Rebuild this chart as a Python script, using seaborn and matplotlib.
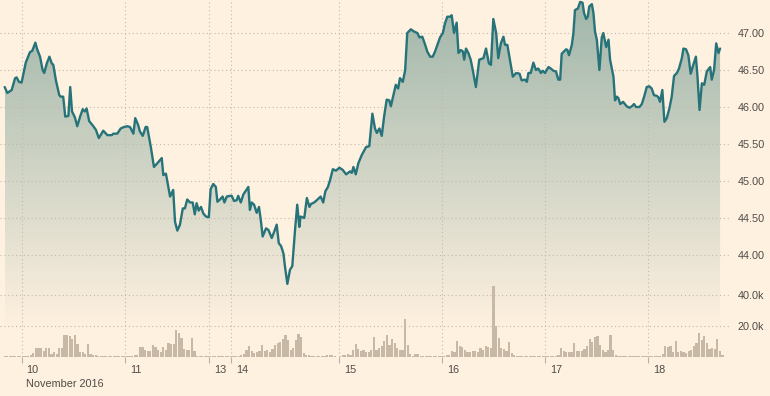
import numpy as np
import pandas as pd
import matplotlib
matplotlib.use('Agg')
import matplotlib.pyplot as plt
import seaborn as sns
from matplotlib.colors import LinearSegmentedColormap
from matplotlib.transforms import ScaledTranslation

# Price path, x in trading-slot units (one slot per volume bar).
price_t = [
    0.0, 1.0, 2.7, 4.0, 4.6, 5.5, 6.5, 8.1, 9.7, 10.6, 11.8, 12.5, 13.6, 14.6, 15.2,
    16.2, 17.2, 18.1, 18.7, 19.7, 21.0, 21.5, 22.5, 23.3, 24.5, 25.2, 25.9, 27.0, 27.9,
    29.0, 30.0, 30.8, 31.5, 32.5, 34.1, 35.1, 36.2, 37.9, 39.5, 41.2, 41.8, 43.3, 44.6,
    45.9, 47.2, 48.2, 49.5, 50.2, 51.3, 52.0, 53.1, 54.2, 54.8, 56.2, 57.4, 58.7, 60.4,
    61.0, 62.0, 63.6, 64.8, 65.5, 66.4, 67.4, 68.5, 69.3, 70.2, 71.3, 72.3, 73.1, 73.8,
    74.6, 75.5, 76.4, 77.4, 78.5, 79.2, 80.2, 81.2, 81.8, 82.8, 83.8, 84.5, 85.4, 86.7,
    87.3, 88.2, 89.2, 89.8, 90.8, 91.8, 93.7, 94.3, 95.0, 95.9, 96.9, 97.8, 98.6, 99.2,
    100.5, 101.4, 102.7, 103.6, 104.6, 105.4, 106.3, 107.2, 107.8, 108.7, 109.7, 110.6,
    111.7, 112.5, 113.3, 113.8, 115.2, 116.2, 117.2, 117.8, 119.0, 120.0, 121.5, 122.5,
    123.3, 124.3, 125.1, 126.2, 127.4, 128.7, 130.0, 131.3, 132.8, 133.5, 134.1, 135.0,
    136.0, 137.3, 139.0, 140.2, 141.4, 142.4, 143.1, 144.1, 145.0, 145.9, 146.9, 147.9,
    148.5, 149.5, 150.4, 151.3, 152.0, 153.1, 154.0, 154.8, 156.2, 157.4, 158.7, 159.5,
    160.6, 161.7, 162.5, 163.6, 164.6, 165.5, 166.4, 167.4, 168.5, 169.3, 170.2, 171.3,
    171.9, 172.8, 173.8, 174.5, 175.4, 176.2, 176.7, 177.4, 178.3, 179.2, 180.0, 181.2,
    182.5, 184.1, 185.1, 186.2, 187.0, 187.9, 189.0, 189.8, 190.8, 191.8, 192.4, 193.3,
    195.4, 196.7, 198.0, 198.8, 200.1, 200.8, 201.4, 202.3, 203.3, 204.3, 205.2, 206.2,
    206.9, 207.8, 209.1, 210.0, 211.0, 212.0, 212.9, 213.6, 214.2, 215.9, 216.4, 217.0,
    218.1, 218.7, 219.3, 220.4, 221.3, 222.2, 222.8, 223.6, 224.2, 224.8, 225.8, 226.4,
    227.0, 227.7, 228.7, 229.6, 230.2, 231.3, 232.2, 232.8, 234.1, 234.7, 235.4, 236.0,
    236.7, 237.8, 239.2, 240.2, 241.2, 242.0, 242.8, 244.1, 245.0, 245.9, 246.9, 247.9,
    248.8, 249.7, 250.8, 251.4, 252.0, 252.9, 253.7, 254.6, 255.6, 256.5, 257.4, 258.5,
    259.3, 260.4, 261.0, 262.0, 262.9, 263.8, 264.8, 265.8, 266.4, 267.2, 268.1, 269.0,
    270.0, 271.3, 271.9, 272.8, 273.6, 274.5, 275.1,
]
price = [
    46.27, 46.19, 46.23, 46.39, 46.40, 46.34, 46.33, 46.60, 46.74, 46.76, 46.87, 46.78,
    46.68, 46.50, 46.46, 46.59, 46.68, 46.59, 46.57, 46.36, 46.16, 46.14, 46.14, 45.87,
    45.88, 46.27, 45.94, 45.86, 45.74, 45.87, 45.97, 45.94, 45.98, 45.81, 45.74, 45.69,
    45.58, 45.68, 45.62, 45.62, 45.64, 45.64, 45.71, 45.73, 45.74, 45.73, 45.64, 45.85,
    45.76, 45.67, 45.61, 45.73, 45.73, 45.46, 45.19, 45.24, 45.31, 45.08, 45.10, 44.79,
    44.88, 44.45, 44.33, 44.41, 44.63, 44.63, 44.75, 44.71, 44.71, 44.55, 44.70, 44.60,
    44.65, 44.56, 44.52, 44.51, 44.89, 44.96, 44.92, 44.72, 44.75, 44.79, 44.71, 44.79,
    44.80, 44.80, 44.73, 44.74, 44.80, 44.71, 44.82, 44.92, 44.61, 44.71, 44.68, 44.57,
    44.65, 44.44, 44.25, 44.36, 44.34, 44.23, 44.31, 44.41, 44.16, 44.12, 44.02, 43.84,
    43.61, 43.80, 43.85, 44.36, 44.68, 44.38, 44.52, 44.50, 44.77, 44.65, 44.69, 44.71,
    44.74, 44.79, 44.71, 44.86, 44.92, 45.01, 45.16, 45.14, 45.18, 45.15, 45.09, 45.13,
    45.11, 45.19, 45.09, 45.24, 45.35, 45.46, 45.47, 45.91, 45.71, 45.65, 45.71, 45.61,
    45.87, 46.10, 46.09, 46.01, 46.16, 46.30, 46.25, 46.39, 46.34, 46.50, 47.00, 47.05,
    47.02, 47.00, 46.94, 46.95, 46.84, 46.75, 46.68, 46.68, 46.75, 46.84, 46.94, 47.00,
    47.13, 47.22, 47.22, 47.24, 47.00, 47.14, 46.73, 46.77, 46.75, 46.64, 46.79, 46.73,
    46.64, 46.50, 46.27, 46.64, 46.66, 46.79, 46.59, 46.57, 47.19, 47.00, 46.66, 46.86,
    46.95, 46.84, 46.84, 46.41, 46.46, 46.45, 46.36, 46.37, 46.34, 46.46, 46.46, 46.60,
    46.50, 46.52, 46.46, 46.49, 46.46, 46.54, 46.52, 46.49, 46.48, 46.37, 46.37, 46.72,
    46.78, 46.77, 46.70, 46.84, 47.00, 47.31, 47.33, 47.42, 47.41, 47.27, 47.19, 47.22,
    47.36, 47.39, 47.27, 47.02, 46.91, 46.50, 46.94, 47.00, 46.81, 46.91, 46.64, 46.41,
    46.09, 46.14, 46.12, 46.04, 46.07, 46.01, 45.99, 46.01, 46.04, 46.00, 46.00, 46.04,
    46.14, 46.27, 46.28, 46.25, 46.16, 46.15, 46.13, 46.07, 46.23, 45.80, 45.85, 45.98,
    46.14, 46.42, 46.46, 46.52, 46.66, 46.79, 46.78, 46.70, 46.45, 46.57, 46.68, 46.42,
    45.96, 46.32, 46.30, 46.48, 46.54, 46.37, 46.50, 46.86, 46.73, 46.79,
]

# Volume per slot, thousands of shares.
volume_k = [
    0.45, 0.45, 0.45, 0.45, 0.45, 0.45, 0.45, 0.45, 0.45, 0.85,    # 0
    1.3, 2.6, 5.8, 5.8, 5.6, 3.7, 5.8, 5.8, 2.1, 3.4,              # 10
    2.1, 5.6, 5.8, 14.0, 14.0, 13.4, 11.6, 14.4, 8.6, 3.2,         # 20
    3.4, 2.1, 8.6, 2.1, 1.3, 1.3, 0.85, 0.45, 0.45, 0.45,          # 30
    0.45, 0.45, 0.45, 0.45, 0.45, 0.45, 0.45, 0.45, 0.45, 0.65,    # 40
    1.5, 1.5, 6.5, 6.5, 4.7, 3.7, 3.7, 7.9, 6.5, 4.7,              # 50
    3.2, 6.5, 4.7, 9.0, 8.6, 8.6, 17.6, 15.5, 12.3, 5.0,           # 60
    4.3, 4.3, 12.3, 3.7, 0.85, 0.85, 0.45, 0.45, 0.45, 0.45,       # 70
    0.45, 0.45, 0.45, 0.45, 0.45, 0.45, 0.45, 0.45, 0.45, 0.45,    # 80
    0.45, 1.1, 1.9, 4.7, 6.9, 3.7, 2.6, 3.0, 3.7, 7.9,             # 90
    3.7, 4.7, 3.0, 5.2, 7.9, 9.0, 9.5, 11.6, 14.4, 11.2,           # 100
    4.7, 5.8, 11.2, 15.0, 12.9, 2.6, 1.5, 1.1, 0.85, 0.45,         # 110
    0.45, 0.45, 0.45, 0.85, 1.1, 1.5, 1.1, 0.45, 0.2, 0.85,        # 120
    1.1, 1.3, 2.1, 1.5, 4.7, 8.6, 5.2, 3.7, 4.3, 3.0,              # 130
    3.0, 4.3, 12.9, 4.7, 5.8, 6.9, 10.5, 14.4, 7.9, 11.6,          # 140
    9.0, 5.8, 4.7, 4.7, 24.5, 7.9, 2.1, 0.85, 1.7, 2.1,            # 150
    0.65, 0.45, 0.45, 0.45, 0.85, 0.85, 0.45, 0.45, 0.45, 0.85,    # 160
    1.5, 1.0, 3.7, 3.0, 10.5, 6.9, 6.5, 4.3, 3.0, 3.0,             # 170
    4.1, 3.7, 3.0, 5.8, 4.7, 7.3, 6.5, 5.8, 45.6, 19.8,            # 180
    12.3, 5.8, 5.4, 3.7, 9.5, 2.6, 1.5, 0.45, 0.45, 0.45,          # 190
    0.45, 0.45, 0.45, 0.45, 0.45, 0.45, 0.45, 0.45, 0.45, 0.45,    # 200
    0.85, 0.85, 0.85, 1.5, 5.8, 3.7, 3.0, 3.2, 3.2, 9.0,           # 210
    4.1, 3.7, 4.1, 5.2, 6.9, 11.6, 9.5, 12.7, 13.4, 7.9,           # 220
    4.3, 3.0, 4.7, 14.4, 4.7, 1.5, 0.45, 0.45, 0.45, 0.45,         # 230
    0.45, 0.45, 0.45, 0.45, 0.45, 0.45, 0.45, 0.45, 0.45, 0.45,    # 240
    0.45, 0.45, 0.85, 2.1, 6.9, 6.3, 6.9, 3.2, 10.1, 3.2,          # 250
    3.7, 3.2, 2.6, 3.7, 4.7, 6.9, 9.0, 15.5, 10.8, 13.7,           # 260
    9.0, 5.4, 5.8, 5.2, 11.6, 3.7, 1.5,                            # 270
]

day_t = [6.5, 46.2, 78.5, 87.2, 128.7, 168.3, 207.9, 247.5]
day_labels = ['10', '11', '13', '14', '15', '16', '17', '18']
month_label = 'November 2016'
price_ticks = [44.0, 44.5, 45.0, 45.5, 46.0, 46.5, 47.0]
volume_ticks = [20, 40]

BG = '#fff1e0'
LINE = '#27737a'
TOP = '#9fb6aa'
VOL = '#c8b8a6'
GRID = '#c2b9ae'
TICK = '#b8aea3'
TXT = '#4e4b47'

sns.set_theme(style='white')
plt.rcParams['font.family'] = ['Liberation Sans', 'DejaVu Sans']

fig = plt.figure(figsize=(7.7, 3.96), dpi=100, facecolor=BG)
ax = fig.add_axes([0, 39 / 396, 731 / 770, 357 / 396])
ax.set_facecolor(BG)

p_lo, p_hi = 42.622, 47.446
xlim = (-1.8, 279.3)

df_p = pd.DataFrame({'t': price_t, 'price': price})

# area under the price line, shaded with a vertical gradient
area = ax.fill_between(df_p['t'], df_p['price'], p_lo, color='none', lw=0)
rows = np.linspace(p_lo, p_hi, 300)
frac = np.clip((rows - 42.99) / (p_hi - 42.99), 0, 1)[:, None]
cmap = LinearSegmentedColormap.from_list('fade', [BG, TOP])
im = ax.imshow(frac, extent=[df_p['t'].min(), df_p['t'].max(), p_lo, p_hi],
               origin='lower', aspect='auto', cmap=cmap, vmin=0, vmax=1, zorder=1)
im.set_clip_path(area.get_paths()[0], transform=ax.transData)

dots = (0, (1, 2.5))
for p in price_ticks:
    ax.axhline(p, color=GRID, ls=dots, lw=0.8, zorder=2)
for t in day_t:
    ax.axvline(t, color=GRID, ls=dots, lw=0.8, zorder=2)

sns.lineplot(data=df_p, x='t', y='price', ax=ax, color=LINE, lw=1.7,
             estimator=None, zorder=4)

# volume bars on a twin axis
ax_v = ax.twinx()
sns.histplot(x=np.arange(len(volume_k)), weights=volume_k, discrete=True,
             shrink=0.85, color=VOL, alpha=1, linewidth=0, ax=ax_v)
ax_v.set_ylim(0, 229.2)
ax_v.set_yticks(volume_ticks, labels=[f'{v:.1f}k' for v in volume_ticks])
ax_v.set_axisbelow(True)
ax_v.grid(axis='y', color=GRID, ls=dots, lw=0.8)
ax_v.grid(axis='x', visible=False)
ax_v.tick_params(axis='y', length=0, pad=4.5, labelsize=7.8, labelcolor=TXT)
ax_v.set_ylabel('')

ax.set_xlim(*xlim)
ax.set_ylim(p_lo, p_hi)
ax.yaxis.tick_right()
ax.set_yticks(price_ticks, labels=[f'{p:.2f}' for p in price_ticks])
ax.tick_params(axis='y', length=0, pad=4.5, labelsize=7.8, labelcolor=TXT)
ax.set_xticks(day_t, labels=day_labels)
ax.tick_params(axis='x', bottom=True, direction='out', length=4.3, width=0.8,
               color=TICK, pad=1.5, labelsize=7.8, labelcolor=TXT)
shift = ScaledTranslation(5 / 100, 0, fig.dpi_scale_trans)
for lab in ax.get_xticklabels():
    lab.set_horizontalalignment('left')
    lab.set_transform(lab.get_transform() + shift)
ax.set_xlabel('')
ax.set_ylabel('')
ax.grid(False)

for a in (ax, ax_v):
    for s in a.spines.values():
        s.set_visible(False)

fig.text(26 / 770, 1 - 384 / 396, month_label, ha='left', va='center',
         fontsize=7.8, color=TXT)

fig.savefig('out.png', dpi=100, facecolor=BG)
